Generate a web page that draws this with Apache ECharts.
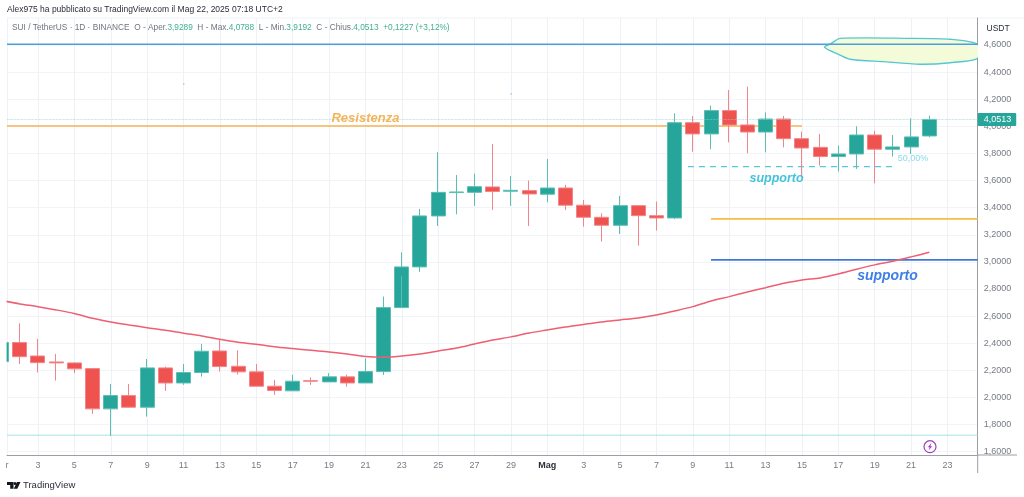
<!DOCTYPE html>
<html>
<head>
<meta charset="UTF-8">
<title>SUI / TetherUS</title>
<script src="https://cdn.jsdelivr.net/npm/echarts@6/dist/echarts.min.js"></script>
<style>
* { margin: 0; padding: 0; }
html, body { background: #fff; }
#app { width: 1024px; height: 497px; }
</style>
</head>
<body>
<div id="app"></div>
<script>
// days are counted from Apr 1 = 1, so May 1 = 31
var opens = [2.265,2.405,2.306,2.262,2.255,2.213,1.916,2.014,1.928,2.218,2.107,2.184,2.343,2.230,2.189,2.083,2.049,2.124,2.115,2.152,2.107,2.191,2.663,2.963,3.339,3.511,3.513,3.553,3.521,3.526,3.499,3.545,3.418,3.329,3.270,3.415,3.341,3.324,4.027,3.944,4.116,4.010,3.958,4.054,3.909,3.845,3.777,3.796,3.936,3.831,3.848,3.929];
var closes = [2.405,2.301,2.257,2.255,2.211,1.916,2.014,1.928,2.218,2.107,2.184,2.341,2.228,2.189,2.083,2.051,2.120,2.120,2.152,2.107,2.191,2.663,2.963,3.339,3.513,3.516,3.555,3.519,3.528,3.501,3.545,3.418,3.329,3.270,3.415,3.341,3.324,4.027,3.944,4.116,4.010,3.958,4.054,3.909,3.840,3.777,3.796,3.936,3.831,3.848,3.922,4.051];
var lows = [2.250,2.247,2.184,2.125,2.179,1.879,1.717,1.925,1.859,2.048,2.093,2.154,2.191,2.169,2.083,2.019,2.049,2.093,2.115,2.080,2.107,2.166,2.896,2.926,3.265,3.351,3.413,3.383,3.413,3.265,3.440,3.383,3.260,3.150,3.206,3.120,3.231,3.315,3.813,3.831,3.882,3.801,3.808,3.845,3.629,3.710,3.666,3.686,3.580,3.777,3.796,3.919];
var highs = [2.420,2.547,2.432,2.321,2.260,2.216,2.100,2.100,2.284,2.228,2.247,2.395,2.424,2.348,2.247,2.130,2.167,2.149,2.179,2.169,2.289,2.744,3.070,3.391,3.809,3.641,3.651,3.870,3.634,3.600,3.759,3.568,3.457,3.359,3.487,3.415,3.445,4.096,4.076,4.153,4.268,4.293,4.103,4.076,3.961,3.944,3.858,4.000,3.968,3.936,4.059,4.079];
var maValues = [2.715,2.690,2.670,2.646,2.619,2.584,2.557,2.535,2.515,2.496,2.474,2.454,2.429,2.407,2.393,2.375,2.361,2.348,2.336,2.321,2.302,2.297,2.306,2.321,2.343,2.365,2.395,2.424,2.447,2.476,2.498,2.520,2.539,2.557,2.572,2.587,2.609,2.638,2.670,2.712,2.744,2.778,2.810,2.842,2.867,2.882,2.911,2.946,2.978,3.005,3.037,3.071];

var tickDays = [1.296,3,5,7,9,11,13,15,17,19,21,23,25,27,29,31,33,35,37,39,41,43,45,47,49,51,53];
var tickLabels = ['r','3','5','7','9','11','13','15','17','19','21','23','25','27','29','Mag','3','5','7','9','11','13','15','17','19','21','23'];
var priceTicks = [1.6,1.8,2.0,2.2,2.4,2.6,2.8,3.0,3.2,3.4,3.6,3.8,4.0,4.2,4.4,4.6];

var dayMin = 1.296, dayMax = 54.66;
var priceMin = 1.5757, priceMax = 4.799;
var lastClose = 4.0513;

// x0, x1, price, colour, width, dash
var levels = [
	[dayMin, dayMax, 4.605, '#4a9fdc', 1.5, null],
	[dayMin, 45, 4.0026, '#f5b556', 1.6, null],
	[40, dayMax, 3.317, '#f7bd45', 1.6, null],
	[40, dayMax, 3.015, '#3f79d8', 1.8, null],
	[dayMin, dayMax, 1.722, '#a8e0e6', 1, null],
	[38.73, 50, 3.703, '#55c8dc', 1.4, [6, 5]],
	[10.97, 11.05, 4.312, '#6cc4bb', 1, null],
	[28.97, 29.05, 4.239, '#6cc4bb', 1, null]
];

var cloud = [[46.25,4.583],[46.63,4.613],[47.09,4.649],[50.94,4.649],[53.14,4.642],[54.66,4.605],[54.66,4.502],[53.14,4.469],[51.49,4.458],[49.45,4.477],[47.64,4.495],[47.09,4.526]];

// text, day, price, colour, font
var notes = [
	['Resistenza', 21, 4.06, '#f6b45a', 'italic bold 13px "Liberation Sans"'],
	['supporto', 43.6, 3.615, '#45c3da', 'italic bold 12.5px "Liberation Sans"'],
	['supporto', 49.7, 2.895, '#3f7fe6', 'italic bold 14px "Liberation Sans"'],
	['50,00%', 51.1, 3.76, '#8adbe6', '9px "Liberation Sans"']
];

var days = opens.map(function(v, i) { return i + 1; });
var candleData = days.map(function(d, i) {
	return [d, opens[i], closes[i], lows[i], highs[i]];
});
var maData = days.map(function(d, i) { return [d, maValues[i]]; });

var myChart = echarts.init(document.getElementById('app'), null, { renderer: 'canvas' });
var font = '"Liberation Sans", Arial, sans-serif';

var option = {
	animation: false,
	backgroundColor: '#fff',
	textStyle: { fontFamily: font },
	grid: { left: 7, right: 46.3, top: 18, bottom: 42 },
	xAxis: {
		type: 'value',
		min: dayMin,
		max: dayMax,
		axisLine: { show: true, onZero: false, lineStyle: { color: '#9b9ea3', width: 1 } },
		axisTick: { show: false, customValues: tickDays },
		axisLabel: {
			customValues: tickDays,
			color: '#787b86',
			fontSize: 9,
			margin: 6,
			fontFamily: font,
			formatter: function(value) {
				var label = tickLabels[tickDays.indexOf(value)];
				return label === 'Mag' ? '{m|Mag}' : label;
			},
			rich: { m: { color: '#2a2e39', fontSize: 9, fontWeight: 'bold', fontFamily: font } }
		},
		splitLine: { show: true, lineStyle: { color: '#eef1f5', width: 1 } }
	},
	yAxis: {
		type: 'value',
		position: 'right',
		min: priceMin,
		max: priceMax,
		scale: true,
		axisLine: { show: true, onZero: false, lineStyle: { color: '#9b9ea3', width: 1 } },
		axisTick: { show: false, customValues: priceTicks },
		axisLabel: {
			customValues: priceTicks,
			color: '#787b86',
			fontSize: 9,
			margin: 6,
			fontFamily: font,
			formatter: function(value) { return value.toFixed(4).replace('.', ','); }
		},
		splitLine: { show: true, lineStyle: { color: '#f2f4f7', width: 1 } }
	},
	series: [
		{
			name: 'cloud',
			type: 'custom',
			z: 1,
			clip: true,
			data: [0],
			renderItem: function(params, api) {
				return {
					type: 'polygon',
					shape: { points: cloud.map(function(p) { return api.coord(p); }), smooth: 0.25 },
					style: { fill: '#f4fbd9', stroke: '#55c6d6', lineWidth: 1.4 }
				};
			}
		},
		{
			name: 'levels',
			type: 'custom',
			z: 2,
			clip: true,
			data: levels.map(function(l, i) { return i; }),
			renderItem: function(params, api) {
				var l = levels[params.dataIndex];
				var a = api.coord([l[0], l[2]]);
				var b = api.coord([l[1], l[2]]);
				return {
					type: 'line',
					shape: { x1: a[0], y1: a[1], x2: b[0], y2: b[1] },
					style: { stroke: l[3], lineWidth: l[4], lineDash: l[5] }
				};
			}
		},
		{
			name: 'SUI',
			type: 'candlestick',
			z: 3,
			barWidth: 14.5,
			encode: { x: 0, y: [1, 2, 3, 4] },
			data: candleData,
			itemStyle: {
				color: '#26a69a',
				color0: '#ef5350',
				borderColor: '#5cbdb3',
				borderColor0: '#f2858a',
				borderWidth: 1
			},
			markLine: {
				silent: true,
				symbol: 'none',
				animation: false,
				lineStyle: { color: '#8fd3cb', type: 'dotted', width: 0.7 },
				label: {
					position: 'end',
					distance: 0,
					formatter: '4,0513',
					color: '#fff',
					fontSize: 9,
					fontFamily: font,
					backgroundColor: '#26a69a',
					padding: [2, 5, 2, 6],
					borderRadius: 1
				},
				data: [{ yAxis: lastClose }]
			}
		},
		{
			name: 'MA',
			type: 'line',
			z: 4,
			showSymbol: false,
			symbol: 'none',
			smooth: 0.3,
			data: maData,
			lineStyle: { color: '#ee5f72', width: 1.5 }
		},
		{
			name: 'notes',
			type: 'custom',
			z: 5,
			clip: false,
			data: notes.map(function(n, i) { return i; }),
			renderItem: function(params, api) {
				var n = notes[params.dataIndex];
				var p = api.coord([n[1], n[2]]);
				return {
					type: 'text',
					x: p[0],
					y: p[1],
					style: { text: n[0], fill: n[3], font: n[4], align: 'center', verticalAlign: 'middle' }
				};
			}
		}
	],
	graphic: [
		// hides the part of the first candle left of the plot
		{ type: 'rect', z: 50, shape: { x: 0, y: 18, width: 6.6, height: 437 }, style: { fill: '#fff' } },
		{ type: 'text', z: 100, x: 7, y: 5.5, style: { text: 'Alex975 ha pubblicato su TradingView.com il Mag 22, 2025 07:18 UTC+2', fill: '#2a2e39', font: '8.5px ' + font } },
		{
			type: 'text', z: 100, x: 12, y: 24,
			style: {
				text: '{g|SUI / TetherUS · 1D · BINANCE  O - Aper.}{t|3,9289}{g|  H - Max.}{t|4,0788}{g|  L - Min.}{t|3,9192}{g|  C - Chius.}{t|4,0513}{t|  +0,1227 (+3,12%)}',
				rich: {
					g: { fill: '#6f7480', font: '8.3px ' + font },
					t: { fill: '#3fb08f', font: '8.3px ' + font }
				}
			}
		},
		{ type: 'text', z: 100, x: 986.5, y: 24.5, style: { text: 'USDT', fill: '#2a2e39', font: '8.5px ' + font, align: 'left' } },
		{ type: 'line', shape: { x1: 7, y1: 18, x2: 1024, y2: 18 }, style: { stroke: '#eef1f5', lineWidth: 1 } },
		{ type: 'line', shape: { x1: 978, y1: 455, x2: 1017, y2: 455 }, style: { stroke: '#9b9ea3', lineWidth: 1 } },
		{ type: 'line', shape: { x1: 977.7, y1: 455, x2: 977.7, y2: 473 }, style: { stroke: '#9b9ea3', lineWidth: 1 } },
		// lightning badge
		{ type: 'circle', z: 60, shape: { cx: 930, cy: 446.7, r: 6 }, style: { fill: '#fff', stroke: '#9c3fc0', lineWidth: 1.2 } },
		{ type: 'polygon', z: 61, shape: { points: [[931.5, 442.8], [927.8, 447.2], [929.7, 447.2], [928.5, 450.6], [932.2, 446.2], [930.3, 446.2]] }, style: { fill: '#9c3fc0' } },
		// TradingView logo
		{ type: 'polygon', shape: { points: [[7, 482], [13.5, 482], [13.5, 488.8], [10.2, 488.8], [10.2, 485], [7, 485]] }, style: { fill: '#131722' } },
		{ type: 'circle', shape: { cx: 15, cy: 483.5, r: 1.5 }, style: { fill: '#131722' } },
		{ type: 'polygon', shape: { points: [[17, 482], [20.5, 482], [17.3, 488.8], [13.8, 488.8]] }, style: { fill: '#131722' } },
		{ type: 'text', x: 23, y: 480.5, style: { text: 'TradingView', fill: '#2a2e39', font: '9.5px ' + font } }
	]
};

myChart.setOption(option);
</script>
</body>
</html>
